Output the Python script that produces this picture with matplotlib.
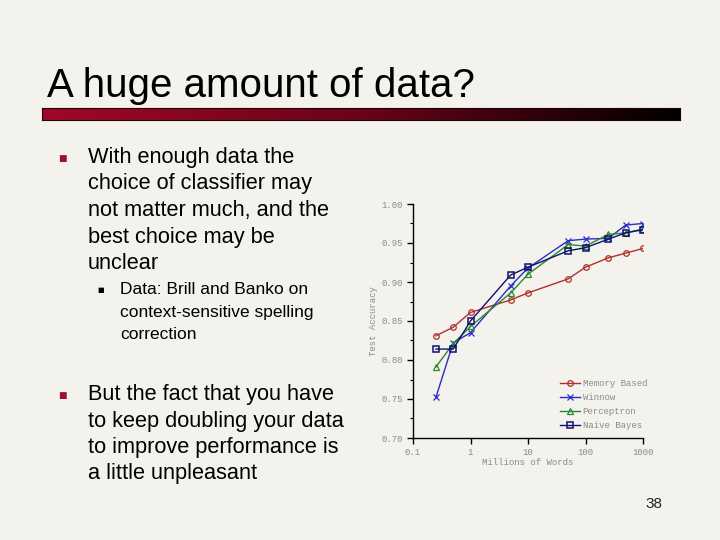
import numpy as np
import matplotlib.pyplot as plt
from matplotlib.colors import LinearSegmentedColormap
from matplotlib.ticker import MultipleLocator, FixedLocator

# millions of words
words = [0.25, 0.5, 1, 5, 10, 50, 100, 250, 500, 1000]
memory_based = [0.831, 0.842, 0.861, 0.877, 0.886, 0.904, 0.919, 0.931, 0.937, 0.943]
winnow = [0.752, 0.822, 0.835, 0.895, 0.918, 0.953, 0.955, 0.956, 0.973, 0.975]
perceptron = [0.791, 0.821, 0.843, 0.886, 0.910, 0.948, 0.946, 0.961, 0.963, 0.968]
naive_bayes = [0.814, 0.814, 0.850, 0.909, 0.919, 0.940, 0.944, 0.955, 0.963, 0.967]

y_ticks = [0.70, 0.75, 0.80, 0.85, 0.90, 0.95, 1.00]
x_ticks = [0.1, 1, 10, 100, 1000]
x_labels = ["0.1", "1", "10", "100", "1000"]

bg = "#f3f2ed"
W, H = 720, 540
fig = plt.figure(figsize=(7.2, 5.4), dpi=100, facecolor=bg)

def fx(px):
    return px / W

def fy(py):
    return 1 - py / H

# title + gradient bar
fig.text(fx(47), fy(97), "A huge amount of data?", fontsize=29,
         family="Liberation Sans", color="black", va="baseline")
bar = fig.add_axes([fx(42), fy(120), fx(680 - 42), 12 / H])
cmap = LinearSegmentedColormap.from_list("bar", ["#a0082a", "#6a0418", "#000000"])
bar.imshow(np.linspace(0, 1, 256)[None, :], aspect="auto", cmap=cmap)
bar.set_xticks([])
bar.set_yticks([])
for s in bar.spines.values():
    s.set_color("#200006")
    s.set_linewidth(0.8)

# bullet text
body = dict(family="Liberation Sans", color="black", va="baseline")
lines1 = ["With enough data the", "choice of classifier may", "not matter much, and the",
          "best choice may be", "unclear"]
for i, t in enumerate(lines1):
    fig.text(fx(88), fy(163 + i * 26.5), t, fontsize=15.7, **body)
fig.text(fx(58), fy(161), "\u25a0", fontsize=6.5, color="#a0102a", family="DejaVu Sans")

lines2 = ["Data: Brill and Banko on", "context-sensitive spelling", "correction"]
for i, t in enumerate(lines2):
    fig.text(fx(120), fy(294 + i * 22.5), t, fontsize=12.5, **body)
fig.text(fx(97), fy(292), "\u25a0", fontsize=5, color="black", family="DejaVu Sans")

lines3 = ["But the fact that you have", "to keep doubling your data",
          "to improve performance is", "a little unpleasant"]
for i, t in enumerate(lines3):
    fig.text(fx(88), fy(400 + i * 26.5), t, fontsize=15.7, **body)
fig.text(fx(58), fy(398), "\u25a0", fontsize=6.5, color="#a0102a", family="DejaVu Sans")

fig.text(fx(645), fy(508), "38", fontsize=11, family="Liberation Sans",
         color="#222222", va="baseline")

# chart
ax = fig.add_axes([fx(413), fy(438), fx(643 - 413), (438 - 204) / H])
ax.set_facecolor(bg)
mono = "Liberation Mono"
gray = "#8a8a8a"
ax.plot(words, memory_based, color="#b0302a", marker="o", mfc="none", ms=4,
        lw=1, mew=0.9, label="Memory Based")
ax.plot(words, winnow, color="#2c2cc8", marker="x", ms=4.5, lw=1, mew=0.9,
        label="Winnow")
ax.plot(words, perceptron, color="#2a8a2a", marker="^", mfc="none", ms=4.5,
        lw=1, mew=0.9, label="Perceptron")
ax.plot(words, naive_bayes, color="#101070", marker="s", mfc="none", ms=4,
        lw=1, mew=1.1, label="Naive Bayes")

ax.set_xscale("log")
ax.set_xlim(0.1, 1000)
ax.set_ylim(0.70, 1.00)
ax.xaxis.set_major_locator(FixedLocator(x_ticks))
ax.xaxis.set_minor_locator(FixedLocator([]))
ax.set_xticklabels(x_labels)
ax.set_yticks(y_ticks)
ax.set_yticklabels([f"{v:.2f}" for v in y_ticks])
ax.yaxis.set_minor_locator(MultipleLocator(0.025))
for s in ["top", "right"]:
    ax.spines[s].set_visible(False)
for s in ["left", "bottom"]:
    ax.spines[s].set_linewidth(1.0)
ax.tick_params(which="major", direction="out", length=4, width=1,
               labelsize=6.5, labelcolor=gray, pad=3)
ax.tick_params(which="minor", direction="out", length=2, width=0.8)
for lab in ax.get_xticklabels() + ax.get_yticklabels():
    lab.set_family(mono)
ax.set_ylabel("Test Accuracy", family=mono, fontsize=6.5, color=gray, labelpad=3)
ax.set_xlabel("Millions of Words", family=mono, fontsize=6.5, color=gray, labelpad=1)

ax.legend(loc="upper left", bbox_to_anchor=(0.62, 0.27), frameon=False,
          prop={"family": mono, "size": 6.5}, labelcolor=gray,
          handlelength=2.2, handletextpad=0.3, labelspacing=0.55, borderpad=0)

fig.savefig("out.png", dpi=100, facecolor=bg)
